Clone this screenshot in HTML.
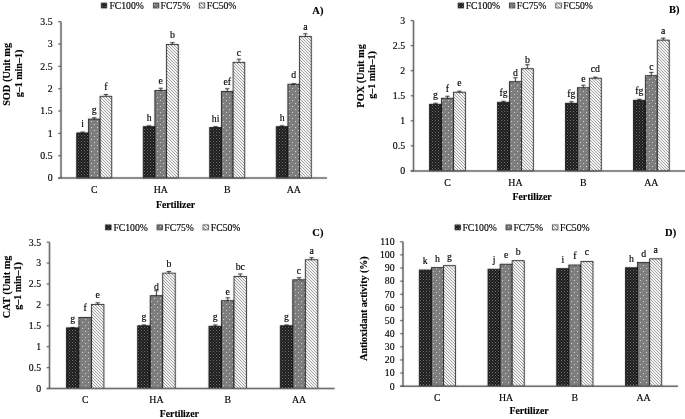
<!DOCTYPE html><html><head><meta charset="utf-8"><style>
html,body{margin:0;padding:0;background:#fff;}
svg{display:block;will-change:transform;}
text{font-family:"Liberation Serif",serif;fill:#000;stroke:#000;stroke-width:0.15px;}
.b{font-weight:bold;}
</style></head><body>
<svg width="685" height="419" viewBox="0 0 685 419">
<defs><filter id="bl" x="0" y="0" width="685" height="419" filterUnits="userSpaceOnUse" color-interpolation-filters="sRGB"><feConvolveMatrix order="3" kernelMatrix="1 2 1 2 36 2 1 2 1" edgeMode="duplicate"/></filter>
<pattern id="pBlack" patternUnits="userSpaceOnUse" width="3" height="3"><rect width="3" height="3" fill="#141414"/><rect x="0" y="0" width="1" height="1" fill="#8c8c8c"/><rect x="1.5" y="1.5" width="1" height="1" fill="#7a7a7a"/></pattern>
<pattern id="pGray" patternUnits="userSpaceOnUse" width="6" height="6"><rect width="6" height="6" fill="#7a7a7a"/><rect x="1" y="1" width="1" height="1" fill="#ececec"/><rect x="4" y="4" width="1" height="1" fill="#ececec"/><rect x="3.5" y="0.5" width="1" height="1" fill="#a4a4a4"/><rect x="0.5" y="3.5" width="1" height="1" fill="#a4a4a4"/></pattern>
<pattern id="pHatch" patternUnits="userSpaceOnUse" width="3" height="3"><rect width="3" height="3" fill="#fff"/><rect x="0" y="0" width="1" height="1" fill="#8c8c8c"/><rect x="1" y="1" width="1" height="1" fill="#8c8c8c"/><rect x="2" y="2" width="1" height="1" fill="#8c8c8c"/></pattern>
</defs>
<rect width="685" height="419" fill="#fff"/>
<g filter="url(#bl)">
<rect x="76.74" y="132.95" width="11.67" height="45.15" fill="url(#pBlack)" stroke="#000" stroke-width="0.8"/>
<path d="M82.58,132.95V132.06M80.38,132.06H84.78" stroke="#000" stroke-width="0.8" fill="none"/>
<rect x="88.41" y="119.10" width="11.67" height="59.00" fill="url(#pGray)" stroke="#000" stroke-width="0.8"/>
<path d="M94.25,119.10V117.75M92.05,117.75H96.45" stroke="#000" stroke-width="0.8" fill="none"/>
<rect x="100.09" y="96.30" width="11.67" height="81.80" fill="url(#pHatch)" stroke="#000" stroke-width="0.8"/>
<path d="M105.92,96.30V94.51M103.72,94.51H108.12" stroke="#000" stroke-width="0.8" fill="none"/>
<rect x="143.24" y="126.69" width="11.67" height="51.41" fill="url(#pBlack)" stroke="#000" stroke-width="0.8"/>
<path d="M149.08,126.69V125.80M146.88,125.80H151.28" stroke="#000" stroke-width="0.8" fill="none"/>
<rect x="154.91" y="90.49" width="11.67" height="87.61" fill="url(#pGray)" stroke="#000" stroke-width="0.8"/>
<path d="M160.75,90.49V88.25M158.55,88.25H162.95" stroke="#000" stroke-width="0.8" fill="none"/>
<rect x="166.59" y="44.45" width="11.67" height="133.65" fill="url(#pHatch)" stroke="#000" stroke-width="0.8"/>
<path d="M172.42,44.45V42.66M170.22,42.66H174.62" stroke="#000" stroke-width="0.8" fill="none"/>
<rect x="209.74" y="127.59" width="11.67" height="50.51" fill="url(#pBlack)" stroke="#000" stroke-width="0.8"/>
<path d="M215.58,127.59V126.69M213.38,126.69H217.78" stroke="#000" stroke-width="0.8" fill="none"/>
<rect x="221.41" y="91.38" width="11.67" height="86.72" fill="url(#pGray)" stroke="#000" stroke-width="0.8"/>
<path d="M227.25,91.38V88.70M225.05,88.70H229.45" stroke="#000" stroke-width="0.8" fill="none"/>
<rect x="233.09" y="62.33" width="11.67" height="115.77" fill="url(#pHatch)" stroke="#000" stroke-width="0.8"/>
<path d="M238.92,62.33V59.20M236.72,59.20H241.12" stroke="#000" stroke-width="0.8" fill="none"/>
<rect x="276.24" y="126.69" width="11.67" height="51.41" fill="url(#pBlack)" stroke="#000" stroke-width="0.8"/>
<path d="M282.08,126.69V125.80M279.88,125.80H284.28" stroke="#000" stroke-width="0.8" fill="none"/>
<rect x="287.91" y="84.23" width="11.67" height="93.87" fill="url(#pGray)" stroke="#000" stroke-width="0.8"/>
<path d="M293.75,84.23V83.78M291.55,83.78H295.95" stroke="#000" stroke-width="0.8" fill="none"/>
<rect x="299.59" y="36.40" width="11.67" height="141.70" fill="url(#pHatch)" stroke="#000" stroke-width="0.8"/>
<path d="M305.42,36.40V33.72M303.22,33.72H307.62" stroke="#000" stroke-width="0.8" fill="none"/>
<path d="M61.00,21.65V178.10" stroke="#595959" stroke-width="1.5" fill="none"/>
<path d="M58.20,178.10H327.00" stroke="#595959" stroke-width="1.5" fill="none"/>
<path d="M58.20,178.10H61.00" stroke="#595959" stroke-width="1.2" fill="none"/>
<path d="M58.20,155.75H61.00" stroke="#595959" stroke-width="1.2" fill="none"/>
<path d="M58.20,133.40H61.00" stroke="#595959" stroke-width="1.2" fill="none"/>
<path d="M58.20,111.05H61.00" stroke="#595959" stroke-width="1.2" fill="none"/>
<path d="M58.20,88.70H61.00" stroke="#595959" stroke-width="1.2" fill="none"/>
<path d="M58.20,66.35H61.00" stroke="#595959" stroke-width="1.2" fill="none"/>
<path d="M58.20,44.00H61.00" stroke="#595959" stroke-width="1.2" fill="none"/>
<path d="M58.20,21.65H61.00" stroke="#595959" stroke-width="1.2" fill="none"/>
<rect x="101.20" y="3.00" width="5.6" height="5.0" fill="url(#pBlack)" stroke="#000" stroke-width="0.6"/>
<rect x="153.30" y="3.00" width="5.6" height="5.0" fill="url(#pGray)" stroke="#000" stroke-width="0.6"/>
<rect x="199.20" y="3.00" width="5.6" height="5.0" fill="url(#pHatch)" stroke="#000" stroke-width="0.6"/>
<rect x="429.59" y="104.27" width="11.93" height="66.63" fill="url(#pBlack)" stroke="#000" stroke-width="0.8"/>
<path d="M435.55,104.27V103.27M433.35,103.27H437.75" stroke="#000" stroke-width="0.8" fill="none"/>
<rect x="441.51" y="98.26" width="11.93" height="72.64" fill="url(#pGray)" stroke="#000" stroke-width="0.8"/>
<path d="M447.48,98.26V96.25M445.28,96.25H449.68" stroke="#000" stroke-width="0.8" fill="none"/>
<rect x="453.44" y="92.24" width="11.93" height="78.66" fill="url(#pHatch)" stroke="#000" stroke-width="0.8"/>
<path d="M459.40,92.24V91.24M457.20,91.24H461.60" stroke="#000" stroke-width="0.8" fill="none"/>
<rect x="497.54" y="102.26" width="11.93" height="68.64" fill="url(#pBlack)" stroke="#000" stroke-width="0.8"/>
<path d="M503.50,102.26V101.26M501.30,101.26H505.70" stroke="#000" stroke-width="0.8" fill="none"/>
<rect x="509.46" y="81.72" width="11.93" height="89.18" fill="url(#pGray)" stroke="#000" stroke-width="0.8"/>
<path d="M515.42,81.72V77.71M513.22,77.71H517.62" stroke="#000" stroke-width="0.8" fill="none"/>
<rect x="521.39" y="68.70" width="11.93" height="102.20" fill="url(#pHatch)" stroke="#000" stroke-width="0.8"/>
<path d="M527.35,68.70V64.69M525.15,64.69H529.55" stroke="#000" stroke-width="0.8" fill="none"/>
<rect x="565.49" y="103.27" width="11.93" height="67.64" fill="url(#pBlack)" stroke="#000" stroke-width="0.8"/>
<path d="M571.45,103.27V101.76M569.25,101.76H573.65" stroke="#000" stroke-width="0.8" fill="none"/>
<rect x="577.41" y="87.73" width="11.93" height="83.17" fill="url(#pGray)" stroke="#000" stroke-width="0.8"/>
<path d="M583.37,87.73V85.23M581.17,85.23H585.57" stroke="#000" stroke-width="0.8" fill="none"/>
<rect x="589.34" y="78.22" width="11.93" height="92.69" fill="url(#pHatch)" stroke="#000" stroke-width="0.8"/>
<path d="M595.30,78.22V77.21M593.10,77.21H597.50" stroke="#000" stroke-width="0.8" fill="none"/>
<rect x="633.44" y="100.26" width="11.93" height="70.64" fill="url(#pBlack)" stroke="#000" stroke-width="0.8"/>
<path d="M639.40,100.26V99.26M637.20,99.26H641.60" stroke="#000" stroke-width="0.8" fill="none"/>
<rect x="645.36" y="75.71" width="11.93" height="95.19" fill="url(#pGray)" stroke="#000" stroke-width="0.8"/>
<path d="M651.32,75.71V72.45M649.12,72.45H653.52" stroke="#000" stroke-width="0.8" fill="none"/>
<rect x="657.29" y="40.14" width="11.93" height="130.76" fill="url(#pHatch)" stroke="#000" stroke-width="0.8"/>
<path d="M663.25,40.14V38.14M661.05,38.14H665.45" stroke="#000" stroke-width="0.8" fill="none"/>
<path d="M413.50,20.60V170.90" stroke="#595959" stroke-width="1.5" fill="none"/>
<path d="M410.70,170.90H685.30" stroke="#595959" stroke-width="1.5" fill="none"/>
<path d="M410.70,170.90H413.50" stroke="#595959" stroke-width="1.2" fill="none"/>
<path d="M410.70,145.85H413.50" stroke="#595959" stroke-width="1.2" fill="none"/>
<path d="M410.70,120.80H413.50" stroke="#595959" stroke-width="1.2" fill="none"/>
<path d="M410.70,95.75H413.50" stroke="#595959" stroke-width="1.2" fill="none"/>
<path d="M410.70,70.70H413.50" stroke="#595959" stroke-width="1.2" fill="none"/>
<path d="M410.70,45.65H413.50" stroke="#595959" stroke-width="1.2" fill="none"/>
<path d="M410.70,20.60H413.50" stroke="#595959" stroke-width="1.2" fill="none"/>
<rect x="458.10" y="3.00" width="5.6" height="5.0" fill="url(#pBlack)" stroke="#000" stroke-width="0.6"/>
<rect x="509.30" y="3.00" width="5.6" height="5.0" fill="url(#pGray)" stroke="#000" stroke-width="0.6"/>
<rect x="555.80" y="3.00" width="5.6" height="5.0" fill="url(#pHatch)" stroke="#000" stroke-width="0.6"/>
<rect x="66.38" y="327.89" width="12.51" height="60.61" fill="url(#pBlack)" stroke="#000" stroke-width="0.8"/>
<path d="M72.64,327.89V327.47M70.44,327.47H74.84" stroke="#000" stroke-width="0.8" fill="none"/>
<rect x="78.89" y="317.44" width="12.51" height="71.06" fill="url(#pGray)" stroke="#000" stroke-width="0.8"/>
<rect x="91.41" y="304.48" width="12.51" height="84.02" fill="url(#pHatch)" stroke="#000" stroke-width="0.8"/>
<path d="M97.66,304.48V302.81M95.46,302.81H99.86" stroke="#000" stroke-width="0.8" fill="none"/>
<rect x="137.68" y="325.80" width="12.51" height="62.70" fill="url(#pBlack)" stroke="#000" stroke-width="0.8"/>
<path d="M143.94,325.80V324.96M141.74,324.96H146.14" stroke="#000" stroke-width="0.8" fill="none"/>
<rect x="150.19" y="295.70" width="12.51" height="92.80" fill="url(#pGray)" stroke="#000" stroke-width="0.8"/>
<path d="M156.45,295.70V290.69M154.25,290.69H158.65" stroke="#000" stroke-width="0.8" fill="none"/>
<rect x="162.71" y="273.13" width="12.51" height="115.37" fill="url(#pHatch)" stroke="#000" stroke-width="0.8"/>
<path d="M168.96,273.13V271.46M166.76,271.46H171.16" stroke="#000" stroke-width="0.8" fill="none"/>
<rect x="208.98" y="326.22" width="12.51" height="62.28" fill="url(#pBlack)" stroke="#000" stroke-width="0.8"/>
<path d="M215.24,326.22V324.96M213.04,324.96H217.44" stroke="#000" stroke-width="0.8" fill="none"/>
<rect x="221.49" y="300.72" width="12.51" height="87.78" fill="url(#pGray)" stroke="#000" stroke-width="0.8"/>
<path d="M227.75,300.72V297.79M225.55,297.79H229.95" stroke="#000" stroke-width="0.8" fill="none"/>
<rect x="234.01" y="276.48" width="12.51" height="112.02" fill="url(#pHatch)" stroke="#000" stroke-width="0.8"/>
<path d="M240.26,276.48V273.97M238.06,273.97H242.46" stroke="#000" stroke-width="0.8" fill="none"/>
<rect x="280.28" y="325.80" width="12.51" height="62.70" fill="url(#pBlack)" stroke="#000" stroke-width="0.8"/>
<path d="M286.54,325.80V324.96M284.34,324.96H288.74" stroke="#000" stroke-width="0.8" fill="none"/>
<rect x="292.79" y="279.82" width="12.51" height="108.68" fill="url(#pGray)" stroke="#000" stroke-width="0.8"/>
<path d="M299.05,279.82V277.73M296.85,277.73H301.25" stroke="#000" stroke-width="0.8" fill="none"/>
<rect x="305.31" y="259.76" width="12.51" height="128.74" fill="url(#pHatch)" stroke="#000" stroke-width="0.8"/>
<path d="M311.56,259.76V257.67M309.36,257.67H313.76" stroke="#000" stroke-width="0.8" fill="none"/>
<path d="M49.50,242.20V388.50" stroke="#595959" stroke-width="1.5" fill="none"/>
<path d="M46.70,388.50H334.70" stroke="#595959" stroke-width="1.5" fill="none"/>
<path d="M46.70,388.50H49.50" stroke="#595959" stroke-width="1.2" fill="none"/>
<path d="M46.70,367.60H49.50" stroke="#595959" stroke-width="1.2" fill="none"/>
<path d="M46.70,346.70H49.50" stroke="#595959" stroke-width="1.2" fill="none"/>
<path d="M46.70,325.80H49.50" stroke="#595959" stroke-width="1.2" fill="none"/>
<path d="M46.70,304.90H49.50" stroke="#595959" stroke-width="1.2" fill="none"/>
<path d="M46.70,284.00H49.50" stroke="#595959" stroke-width="1.2" fill="none"/>
<path d="M46.70,263.10H49.50" stroke="#595959" stroke-width="1.2" fill="none"/>
<path d="M46.70,242.20H49.50" stroke="#595959" stroke-width="1.2" fill="none"/>
<rect x="105.50" y="224.90" width="5.6" height="5.0" fill="url(#pBlack)" stroke="#000" stroke-width="0.6"/>
<rect x="157.00" y="224.90" width="5.6" height="5.0" fill="url(#pGray)" stroke="#000" stroke-width="0.6"/>
<rect x="203.00" y="224.90" width="5.6" height="5.0" fill="url(#pHatch)" stroke="#000" stroke-width="0.6"/>
<rect x="419.28" y="270.00" width="12.07" height="116.20" fill="url(#pBlack)" stroke="#000" stroke-width="0.8"/>
<rect x="431.34" y="267.64" width="12.07" height="118.56" fill="url(#pGray)" stroke="#000" stroke-width="0.8"/>
<rect x="443.41" y="265.67" width="12.07" height="120.53" fill="url(#pHatch)" stroke="#000" stroke-width="0.8"/>
<rect x="488.03" y="269.21" width="12.07" height="116.99" fill="url(#pBlack)" stroke="#000" stroke-width="0.8"/>
<rect x="500.09" y="264.22" width="12.07" height="121.98" fill="url(#pGray)" stroke="#000" stroke-width="0.8"/>
<rect x="512.16" y="260.68" width="12.07" height="125.52" fill="url(#pHatch)" stroke="#000" stroke-width="0.8"/>
<rect x="556.78" y="268.69" width="12.07" height="117.51" fill="url(#pBlack)" stroke="#000" stroke-width="0.8"/>
<rect x="568.84" y="265.01" width="12.07" height="121.19" fill="url(#pGray)" stroke="#000" stroke-width="0.8"/>
<rect x="580.91" y="261.46" width="12.07" height="124.74" fill="url(#pHatch)" stroke="#000" stroke-width="0.8"/>
<rect x="625.53" y="267.77" width="12.07" height="118.43" fill="url(#pBlack)" stroke="#000" stroke-width="0.8"/>
<rect x="637.59" y="262.52" width="12.07" height="123.68" fill="url(#pGray)" stroke="#000" stroke-width="0.8"/>
<rect x="649.66" y="258.84" width="12.07" height="127.36" fill="url(#pHatch)" stroke="#000" stroke-width="0.8"/>
<path d="M403.00,241.77V386.20" stroke="#595959" stroke-width="1.5" fill="none"/>
<path d="M400.20,386.20H678.00" stroke="#595959" stroke-width="1.5" fill="none"/>
<path d="M400.20,386.20H403.00" stroke="#595959" stroke-width="1.2" fill="none"/>
<path d="M400.20,373.07H403.00" stroke="#595959" stroke-width="1.2" fill="none"/>
<path d="M400.20,359.94H403.00" stroke="#595959" stroke-width="1.2" fill="none"/>
<path d="M400.20,346.81H403.00" stroke="#595959" stroke-width="1.2" fill="none"/>
<path d="M400.20,333.68H403.00" stroke="#595959" stroke-width="1.2" fill="none"/>
<path d="M400.20,320.55H403.00" stroke="#595959" stroke-width="1.2" fill="none"/>
<path d="M400.20,307.42H403.00" stroke="#595959" stroke-width="1.2" fill="none"/>
<path d="M400.20,294.29H403.00" stroke="#595959" stroke-width="1.2" fill="none"/>
<path d="M400.20,281.16H403.00" stroke="#595959" stroke-width="1.2" fill="none"/>
<path d="M400.20,268.03H403.00" stroke="#595959" stroke-width="1.2" fill="none"/>
<path d="M400.20,254.90H403.00" stroke="#595959" stroke-width="1.2" fill="none"/>
<path d="M400.20,241.77H403.00" stroke="#595959" stroke-width="1.2" fill="none"/>
<rect x="455.00" y="224.90" width="5.6" height="5.0" fill="url(#pBlack)" stroke="#000" stroke-width="0.6"/>
<rect x="506.00" y="224.90" width="5.6" height="5.0" fill="url(#pGray)" stroke="#000" stroke-width="0.6"/>
<rect x="552.40" y="224.90" width="5.6" height="5.0" fill="url(#pHatch)" stroke="#000" stroke-width="0.6"/>
</g>
<g>
<text x="82.58" y="126.95" font-size="9.8" text-anchor="middle">i</text>
<text x="94.25" y="113.10" font-size="9.8" text-anchor="middle">g</text>
<text x="105.92" y="90.30" font-size="9.8" text-anchor="middle">f</text>
<text x="94.25" y="193.00" font-size="9.8" text-anchor="middle">C</text>
<text x="149.08" y="120.69" font-size="9.8" text-anchor="middle">h</text>
<text x="160.75" y="84.49" font-size="9.8" text-anchor="middle">e</text>
<text x="172.42" y="38.45" font-size="9.8" text-anchor="middle">b</text>
<text x="160.75" y="193.00" font-size="9.8" text-anchor="middle">HA</text>
<text x="215.58" y="121.59" font-size="9.8" text-anchor="middle">hi</text>
<text x="227.25" y="85.38" font-size="9.8" text-anchor="middle">ef</text>
<text x="238.92" y="56.33" font-size="9.8" text-anchor="middle">c</text>
<text x="227.25" y="193.00" font-size="9.8" text-anchor="middle">B</text>
<text x="282.08" y="120.69" font-size="9.8" text-anchor="middle">h</text>
<text x="293.75" y="78.23" font-size="9.8" text-anchor="middle">d</text>
<text x="305.42" y="30.40" font-size="9.8" text-anchor="middle">a</text>
<text x="293.75" y="193.00" font-size="9.8" text-anchor="middle">AA</text>
<text x="52.60" y="181.40" font-size="9.8" text-anchor="end">0</text>
<text x="52.60" y="159.05" font-size="9.8" text-anchor="end">0.5</text>
<text x="52.60" y="136.70" font-size="9.8" text-anchor="end">1</text>
<text x="52.60" y="114.35" font-size="9.8" text-anchor="end">1.5</text>
<text x="52.60" y="92.00" font-size="9.8" text-anchor="end">2</text>
<text x="52.60" y="69.65" font-size="9.8" text-anchor="end">2.5</text>
<text x="52.60" y="47.30" font-size="9.8" text-anchor="end">3</text>
<text x="52.60" y="24.95" font-size="9.8" text-anchor="end">3.5</text>
<text x="109.40" y="8.80" font-size="9.7">FC100%</text>
<text x="160.60" y="8.80" font-size="9.7">FC75%</text>
<text x="206.80" y="8.80" font-size="9.7">FC50%</text>
<text class="b" x="312.30" y="13.60" font-size="10.5">A)</text>
<text class="b" font-size="10.30" text-anchor="middle" transform="translate(10.30,74.40) rotate(-90)">SOD (Unit mg</text>
<text class="b" font-size="10.00" text-anchor="middle" transform="translate(21.50,73.50) rotate(-90)">g–1 min–1)</text>
<text class="b" x="175.50" y="207.50" font-size="9.8" text-anchor="middle">Fertilizer</text>
<text x="435.55" y="98.27" font-size="9.8" text-anchor="middle">g</text>
<text x="447.48" y="92.26" font-size="9.8" text-anchor="middle">f</text>
<text x="459.40" y="86.24" font-size="9.8" text-anchor="middle">e</text>
<text x="447.48" y="185.90" font-size="9.8" text-anchor="middle">C</text>
<text x="503.50" y="96.26" font-size="9.8" text-anchor="middle">fg</text>
<text x="515.42" y="75.72" font-size="9.8" text-anchor="middle">d</text>
<text x="527.35" y="62.70" font-size="9.8" text-anchor="middle">b</text>
<text x="515.42" y="185.90" font-size="9.8" text-anchor="middle">HA</text>
<text x="571.45" y="97.27" font-size="9.8" text-anchor="middle">fg</text>
<text x="583.37" y="81.73" font-size="9.8" text-anchor="middle">e</text>
<text x="595.30" y="72.22" font-size="9.8" text-anchor="middle">cd</text>
<text x="583.38" y="185.90" font-size="9.8" text-anchor="middle">B</text>
<text x="639.40" y="94.26" font-size="9.8" text-anchor="middle">fg</text>
<text x="651.32" y="69.71" font-size="9.8" text-anchor="middle">c</text>
<text x="663.25" y="34.14" font-size="9.8" text-anchor="middle">a</text>
<text x="651.32" y="185.90" font-size="9.8" text-anchor="middle">AA</text>
<text x="405.10" y="174.20" font-size="9.8" text-anchor="end">0</text>
<text x="405.10" y="149.15" font-size="9.8" text-anchor="end">0.5</text>
<text x="405.10" y="124.10" font-size="9.8" text-anchor="end">1</text>
<text x="405.10" y="99.05" font-size="9.8" text-anchor="end">1.5</text>
<text x="405.10" y="74.00" font-size="9.8" text-anchor="end">2</text>
<text x="405.10" y="48.95" font-size="9.8" text-anchor="end">2.5</text>
<text x="405.10" y="23.90" font-size="9.8" text-anchor="end">3</text>
<text x="465.70" y="8.80" font-size="9.7">FC100%</text>
<text x="516.80" y="8.80" font-size="9.7">FC75%</text>
<text x="563.30" y="8.80" font-size="9.7">FC50%</text>
<text class="b" x="669.10" y="13.40" font-size="10.5">B)</text>
<text class="b" font-size="10.30" text-anchor="middle" transform="translate(364.00,75.90) rotate(-90)">POX (Unit mg</text>
<text class="b" font-size="10.00" text-anchor="middle" transform="translate(375.20,75.00) rotate(-90)">g–1 min–1)</text>
<text class="b" x="532.10" y="199.60" font-size="9.8" text-anchor="middle">Fertilizer</text>
<text x="72.64" y="321.89" font-size="9.8" text-anchor="middle">g</text>
<text x="85.15" y="311.44" font-size="9.8" text-anchor="middle">f</text>
<text x="97.66" y="298.48" font-size="9.8" text-anchor="middle">e</text>
<text x="85.15" y="403.40" font-size="9.8" text-anchor="middle">C</text>
<text x="143.94" y="319.80" font-size="9.8" text-anchor="middle">g</text>
<text x="156.45" y="289.70" font-size="9.8" text-anchor="middle">d</text>
<text x="168.96" y="267.13" font-size="9.8" text-anchor="middle">b</text>
<text x="156.45" y="403.40" font-size="9.8" text-anchor="middle">HA</text>
<text x="215.24" y="320.22" font-size="9.8" text-anchor="middle">g</text>
<text x="227.75" y="294.72" font-size="9.8" text-anchor="middle">e</text>
<text x="240.26" y="270.48" font-size="9.8" text-anchor="middle">bc</text>
<text x="227.75" y="403.40" font-size="9.8" text-anchor="middle">B</text>
<text x="286.54" y="319.80" font-size="9.8" text-anchor="middle">g</text>
<text x="299.05" y="273.82" font-size="9.8" text-anchor="middle">c</text>
<text x="311.56" y="253.76" font-size="9.8" text-anchor="middle">a</text>
<text x="299.05" y="403.40" font-size="9.8" text-anchor="middle">AA</text>
<text x="41.10" y="391.80" font-size="9.8" text-anchor="end">0</text>
<text x="41.10" y="370.90" font-size="9.8" text-anchor="end">0.5</text>
<text x="41.10" y="350.00" font-size="9.8" text-anchor="end">1</text>
<text x="41.10" y="329.10" font-size="9.8" text-anchor="end">1.5</text>
<text x="41.10" y="308.20" font-size="9.8" text-anchor="end">2</text>
<text x="41.10" y="287.30" font-size="9.8" text-anchor="end">2.5</text>
<text x="41.10" y="266.40" font-size="9.8" text-anchor="end">3</text>
<text x="41.10" y="245.50" font-size="9.8" text-anchor="end">3.5</text>
<text x="113.40" y="230.70" font-size="9.7">FC100%</text>
<text x="164.30" y="230.70" font-size="9.7">FC75%</text>
<text x="210.80" y="230.70" font-size="9.7">FC50%</text>
<text class="b" x="312.30" y="235.60" font-size="10.5">C)</text>
<text class="b" font-size="10.30" text-anchor="middle" transform="translate(9.50,286.90) rotate(-90)">CAT (Unit mg</text>
<text class="b" font-size="10.00" text-anchor="middle" transform="translate(20.60,286.00) rotate(-90)">g–1 min–1)</text>
<text class="b" x="179.30" y="416.70" font-size="9.8" text-anchor="middle">Fertilizer</text>
<text x="425.31" y="264.00" font-size="9.8" text-anchor="middle">k</text>
<text x="437.38" y="261.64" font-size="9.8" text-anchor="middle">h</text>
<text x="449.44" y="259.67" font-size="9.8" text-anchor="middle">g</text>
<text x="437.38" y="400.90" font-size="9.8" text-anchor="middle">C</text>
<text x="494.06" y="263.21" font-size="9.8" text-anchor="middle">j</text>
<text x="506.12" y="258.22" font-size="9.8" text-anchor="middle">e</text>
<text x="518.19" y="254.68" font-size="9.8" text-anchor="middle">b</text>
<text x="506.12" y="400.90" font-size="9.8" text-anchor="middle">HA</text>
<text x="562.81" y="262.69" font-size="9.8" text-anchor="middle">i</text>
<text x="574.87" y="259.01" font-size="9.8" text-anchor="middle">f</text>
<text x="586.94" y="255.46" font-size="9.8" text-anchor="middle">c</text>
<text x="574.88" y="400.90" font-size="9.8" text-anchor="middle">B</text>
<text x="631.56" y="261.77" font-size="9.8" text-anchor="middle">h</text>
<text x="643.62" y="256.52" font-size="9.8" text-anchor="middle">d</text>
<text x="655.69" y="252.84" font-size="9.8" text-anchor="middle">a</text>
<text x="643.62" y="400.90" font-size="9.8" text-anchor="middle">AA</text>
<text x="394.60" y="389.50" font-size="9.8" text-anchor="end">0</text>
<text x="394.60" y="376.37" font-size="9.8" text-anchor="end">10</text>
<text x="394.60" y="363.24" font-size="9.8" text-anchor="end">20</text>
<text x="394.60" y="350.11" font-size="9.8" text-anchor="end">30</text>
<text x="394.60" y="336.98" font-size="9.8" text-anchor="end">40</text>
<text x="394.60" y="323.85" font-size="9.8" text-anchor="end">50</text>
<text x="394.60" y="310.72" font-size="9.8" text-anchor="end">60</text>
<text x="394.60" y="297.59" font-size="9.8" text-anchor="end">70</text>
<text x="394.60" y="284.46" font-size="9.8" text-anchor="end">80</text>
<text x="394.60" y="271.33" font-size="9.8" text-anchor="end">90</text>
<text x="394.60" y="258.20" font-size="9.8" text-anchor="end">100</text>
<text x="394.60" y="245.07" font-size="9.8" text-anchor="end">110</text>
<text x="462.40" y="230.70" font-size="9.7">FC100%</text>
<text x="513.40" y="230.70" font-size="9.7">FC75%</text>
<text x="560.00" y="230.70" font-size="9.7">FC50%</text>
<text class="b" x="665.10" y="235.60" font-size="10.5">D)</text>
<text class="b" font-size="10.00" text-anchor="middle" transform="translate(367.00,308.60) rotate(-90)">Antioxidant activity (%)</text>
<text class="b" x="529.00" y="413.80" font-size="9.8" text-anchor="middle">Fertilizer</text>
</g></svg></body></html>
